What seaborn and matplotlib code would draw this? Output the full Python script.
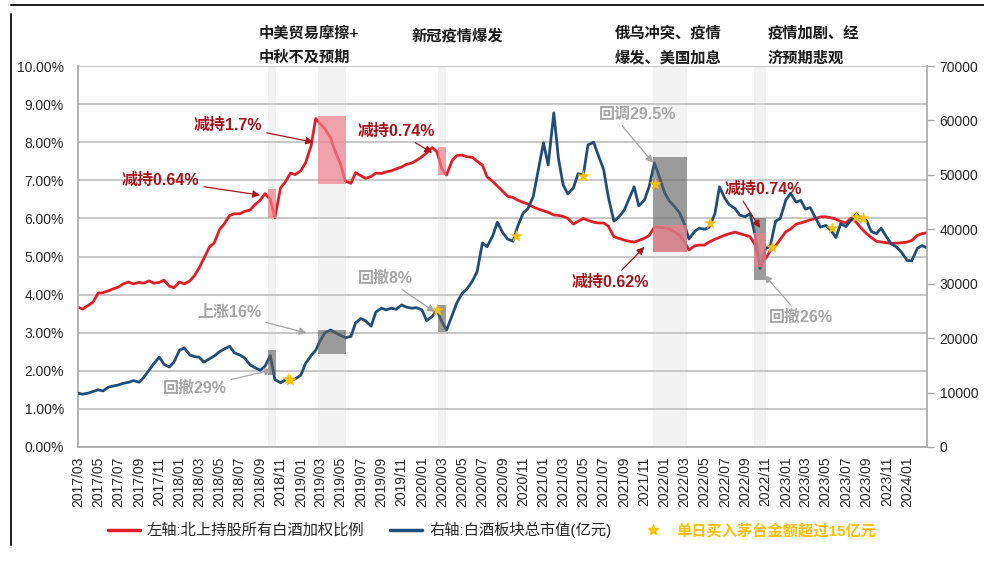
import pandas as pd
import seaborn as sns
import matplotlib.pyplot as plt
import matplotlib.dates as mdates
from matplotlib.lines import Line2D
from matplotlib.patches import Rectangle
from matplotlib.ticker import FuncFormatter

# --- Data ---
# semi-monthly samples: the 1st and 15th of every month, 2017/03 .. 2024/03
DATES = pd.date_range('2017-03-01', '2024-03-01', freq='SMS')

# left axis: northbound holdings, weighted ratio over all baijiu stocks (%)
NB_RATIO = [
    3.67, 3.62, 3.72, 3.80, 4.04, 4.05, 4.10, 4.15, 4.20, 4.28, 4.33, 4.28,
    4.32, 4.30, 4.36, 4.30, 4.32, 4.38, 4.22, 4.18,                          # 2017
    4.33, 4.28, 4.36, 4.50, 4.70, 4.95, 5.25, 5.35, 5.70, 5.85, 6.08, 6.12,
    6.12, 6.18, 6.22, 6.35, 6.48, 6.65, 6.50, 6.02, 6.80, 6.95, 7.19, 7.15,  # 2018
    7.25, 7.45, 7.90, 8.62, 8.48, 8.35, 8.10, 7.75, 7.42, 6.98, 6.92, 7.20,
    7.12, 7.05, 7.10, 7.19, 7.18, 7.22, 7.25, 7.30, 7.35, 7.42, 7.45, 7.52,  # 2019
    7.62, 7.72, 7.86, 7.75, 7.30, 7.14, 7.52, 7.65, 7.66, 7.62, 7.60, 7.50,
    7.40, 7.09, 6.97, 6.85, 6.70, 6.58, 6.55, 6.48, 6.42, 6.38, 6.30, 6.25,  # 2020
    6.20, 6.16, 6.09, 6.08, 6.05, 6.00, 5.85, 5.92, 6.00, 5.95, 5.90, 5.88,
    5.88, 5.80, 5.52, 5.48, 5.43, 5.40, 5.38, 5.42, 5.48, 5.55, 5.77, 5.76,  # 2021
    5.75, 5.72, 5.64, 5.55, 5.40, 5.17, 5.28, 5.30, 5.30, 5.38, 5.45, 5.50,
    5.56, 5.60, 5.64, 5.60, 5.56, 5.52, 5.30, 4.75, 4.95, 5.15, 5.28, 5.45,  # 2022
    5.65, 5.72, 5.85, 5.88, 5.92, 5.96, 6.00, 6.04, 6.04, 6.02, 5.98, 5.92,
    5.88, 6.00, 5.90, 5.75, 5.60, 5.50, 5.40, 5.38, 5.36, 5.34, 5.35, 5.36,  # 2023
    5.38, 5.42, 5.55, 5.60, 5.62,                                            # 2024
]

# right axis: total market value of the baijiu sector (亿元)
SECTOR_CAP = [
    9900, 9700, 9900, 10200, 10500, 10300, 11000, 11200, 11400, 11700,
    11900, 12200, 11900, 12800, 14100, 15300, 16500, 15200, 14700, 15600,    # 2017
    17800, 18200, 16900, 16600, 16500, 15600, 16200, 16700, 17500, 18000,
    18500, 17300, 16900, 16400, 15100, 14600, 14100, 14800, 16800, 12400,
    11800, 12300, 12300, 12500,                                              # 2018
    13200, 15300, 16800, 17800, 19600, 21000, 21500, 21000, 20500, 20100,
    20300, 22800, 23600, 23200, 22200, 24800, 25500, 25200, 25500, 25300,
    26100, 25700, 25500, 25600,                                              # 2019
    25200, 23200, 24000, 25200, 23000, 21500, 24200, 26500, 28200, 29000,
    30500, 32200, 37500, 36800, 38800, 41300, 39300, 38200, 37800, 40500,
    43000, 43800, 46000, 50500,                                              # 2020
    55900, 51800, 61400, 53000, 48200, 46500, 47600, 50200, 50000, 55500,
    56000, 53600, 51000, 46000, 41500, 42200, 43500, 45500, 47800, 44300,
    45400, 47800, 52200, 49800,                                              # 2021
    46700, 45200, 44100, 43000, 41000, 38200, 39600, 40200, 40000, 40400,
    42800, 47800, 45700, 44500, 43800, 42600, 42300, 42900, 38800, 32800,
    36500, 36900, 41500, 42000,                                              # 2022
    45400, 46600, 45000, 45300, 43700, 44000, 42000, 40400, 40700, 39900,
    38500, 41000, 40500, 41600, 42800, 42100, 41600, 39600, 39200, 40200,
    38500, 37300, 36700, 35800,                                              # 2023
    34300, 34200, 36500, 37000, 36600,                                       # 2024
]

# days with a single-day northbound purchase of Moutai above 15亿元
STAR_DATES = ['2018-11-23', '2018-12-01', '2020-02-14', '2020-10-10', '2021-05-01',
              '2021-12-02', '2022-05-18', '2022-11-19', '2023-05-19', '2023-08-01',
              '2023-08-20']
STAR_CAP = [12500, 12400, 25200, 38800, 49800, 48300, 41200, 36700, 40200, 42300, 42100]

# event windows and the ranges boxed on each series
EVENT_START = ['2018-09-24', '2019-02-21', '2020-02-17', '2021-11-27', '2022-09-27']
EVENT_END = ['2018-10-17', '2019-05-17', '2020-03-13', '2022-03-09', '2022-11-01']
RATIO_LO = [6.00, 6.90, 7.14, 5.12, 4.72]
RATIO_HI = [6.77, 8.69, 7.87, 5.83, 5.62]
CAP_LO = [13230, 17090, 21130, 35830, 30680]
CAP_HI = [17820, 21500, 26090, 53280, 42070]

EVENT_TITLES = ['中美贸易摩擦+\n中秋不及预期', '新冠疫情爆发',
                '俄乌冲突、疫情\n爆发、美国加息', '疫情加剧、经\n济预期悲观']

RED = '#E01E26'
BLUE = '#1F4E79'
GOLD = '#FFC000'
NOTE_RED = '#A8141C'
NOTE_GRAY = '#A6A6A6'
AXIS_GRAY = '#A6A6A6'

sns.set_theme(style='white')
plt.rcParams['font.family'] = ['Liberation Sans', 'Noto Sans CJK SC']

df = pd.DataFrame({'date': DATES, 'ratio': NB_RATIO, 'cap': SECTOR_CAP})

fig = plt.figure(figsize=(9.84, 5.63), dpi=100)
ax = fig.add_axes([78 / 984, 1 - 447 / 563, (927 - 78) / 984, (447 - 66) / 563])
ax2 = ax.twinx()

sns.lineplot(data=df, x='date', y='ratio', ax=ax, color=RED, linewidth=2.0, zorder=2)
sns.lineplot(data=df, x='date', y='cap', ax=ax2, color=BLUE, linewidth=2.0, zorder=2)
sns.scatterplot(x=pd.to_datetime(STAR_DATES), y=STAR_CAP, ax=ax2, marker='*', s=75,
                color=GOLD, edgecolor=GOLD, linewidth=0.3, zorder=6, legend=False)

# shaded event windows with the boxed moves
for s, e, rlo, rhi, clo, chi in zip(EVENT_START, EVENT_END, RATIO_LO, RATIO_HI, CAP_LO, CAP_HI):
    x0 = mdates.date2num(pd.Timestamp(s))
    x1 = mdates.date2num(pd.Timestamp(e))
    ax.axvspan(x0, x1, color='#F2F2F2', lw=0, zorder=0)
    ax2.add_patch(Rectangle((x0, clo), x1 - x0, chi - clo, facecolor='#616161',
                            alpha=0.6, lw=0, zorder=3))
    ax2.add_patch(Rectangle((x0, rlo), x1 - x0, rhi - rlo, transform=ax.transData,
                            facecolor='#EF808B', alpha=0.7, lw=0, zorder=4))


def note(text, xytext, xy, color, coords, relpos=(0.5, 0.5)):
    xt = (mdates.date2num(pd.Timestamp(xytext[0])), xytext[1])
    xp = (mdates.date2num(pd.Timestamp(xy[0])), xy[1])
    ax2.annotate(text, xy=xp, xycoords=coords, xytext=xt, textcoords=coords,
                 ha='left', va='center', fontsize=11.5, fontweight='bold', color=color,
                 arrowprops=dict(arrowstyle='-|>', color=color, lw=0.9, mutation_scale=11,
                                 shrinkA=1, shrinkB=0, relpos=relpos),
                 annotation_clip=False, zorder=8)


# holdings cuts (left axis)
note('减持1.7%', ('2018-02-12', 8.45), ('2019-02-08', 8.00), NOTE_RED, ax.transData)
note('减持0.74%', ('2019-06-21', 8.29), ('2020-02-01', 7.72), NOTE_RED, ax.transData)
note('减持0.64%', ('2017-07-11', 7.00), ('2018-09-01', 6.61), NOTE_RED, ax.transData)
note('减持0.62%', ('2021-03-26', 4.33), ('2021-11-01', 5.25), NOTE_RED, ax.transData)
note('减持0.74%', ('2022-07-01', 6.77), ('2022-10-15', 5.75), NOTE_RED, ax.transData,
     relpos=(0.2, 0.0))
# sector moves (right axis)
note('回调29.5%', ('2021-06-18', 61170), ('2021-11-27', 52200), NOTE_GRAY, ax2.transData,
     relpos=(0.25, 0.0))
note('回撤8%', ('2019-06-21', 31050), ('2020-02-09', 24800), NOTE_GRAY, ax2.transData)
note('上涨16%', ('2018-02-23', 24620), ('2019-01-19', 20940), NOTE_GRAY, ax2.transData)
note('回撤29%', ('2017-11-12', 10840), ('2018-10-06', 14150), NOTE_GRAY, ax2.transData)
note('回撤26%', ('2022-11-12', 23880), ('2022-10-28', 31600), NOTE_GRAY, ax2.transData)

# event titles above the plot
for (xpx, ypx), title in zip([(259, 26), (412, 29), (615, 26), (768, 26)], EVENT_TITLES):
    fig.text(xpx / 984, 1 - ypx / 563, title, ha='left', va='top', fontsize=11,
             fontweight='bold', color='#1A1A1A', linespacing=1.9)

# axes formatting
ax.set_xlim(mdates.date2num(pd.Timestamp('2017-03-01')),
            mdates.date2num(pd.Timestamp('2024-03-01')))
ax.set_ylim(0, 10)
ax2.set_ylim(0, 70000)
ax.set_yticks(range(0, 11))
ax.yaxis.set_major_formatter(FuncFormatter(lambda v, _: f'{v:.2f}%'))
ax2.set_yticks(range(0, 70001, 10000))
ax.set_xticks(pd.date_range('2017-03-01', '2024-01-01', freq='2MS'))
ax.xaxis.set_major_formatter(mdates.DateFormatter('%Y/%m'))

ax.yaxis.grid(True, color='#C3C3C3', lw=1.3)
ax.set_axisbelow(True)
ax.set_xlabel('')
ax.set_ylabel('')
ax2.set_ylabel('')

ax.tick_params(axis='y', length=0, pad=10, labelsize=10, labelcolor='#262626')
ax.tick_params(axis='x', length=4, width=1, color=AXIS_GRAY, pad=3, labelsize=10,
               labelrotation=90, labelcolor='#262626')
ax2.tick_params(axis='y', length=5, width=1, color=AXIS_GRAY, pad=4, labelsize=10,
                labelcolor='#262626')

for a in (ax, ax2):
    a.spines['top'].set_visible(False)
ax.spines['right'].set_visible(False)
ax2.spines['left'].set_visible(False)
ax2.spines['bottom'].set_visible(False)
for sp in (ax.spines['left'], ax.spines['bottom'], ax2.spines['right']):
    sp.set_color(AXIS_GRAY)
    sp.set_linewidth(1.2)

# legend
handles = [Line2D([], [], color=RED, lw=2.5),
           Line2D([], [], color=BLUE, lw=2.5),
           Line2D([], [], color=GOLD, marker='*', ls='', ms=8)]
labels = ['左轴:北上持股所有白酒加权比例', '右轴:白酒板块总市值(亿元)', '单日买入茅台金额超过15亿元']
leg = fig.legend(handles, labels, loc='center', bbox_to_anchor=(0.5, 1 - 530 / 563),
                 ncol=3, frameon=False, fontsize=11, handlelength=2.1,
                 handletextpad=0.45, columnspacing=1.7)
for t in leg.get_texts()[:2]:
    t.set_color('#262626')
leg.get_texts()[2].set_color(GOLD)
leg.get_texts()[2].set_fontweight('bold')

# page frame lines
fig.add_artist(Line2D([11 / 984, 1], [1 - 5 / 563, 1 - 5 / 563], color='#1A1A1A', lw=1.4))
fig.add_artist(Line2D([11 / 984, 11 / 984], [1 - 14 / 563, 1 - 545 / 563], color='#1A1A1A', lw=1.4))

fig.savefig('out.png', dpi=100)
